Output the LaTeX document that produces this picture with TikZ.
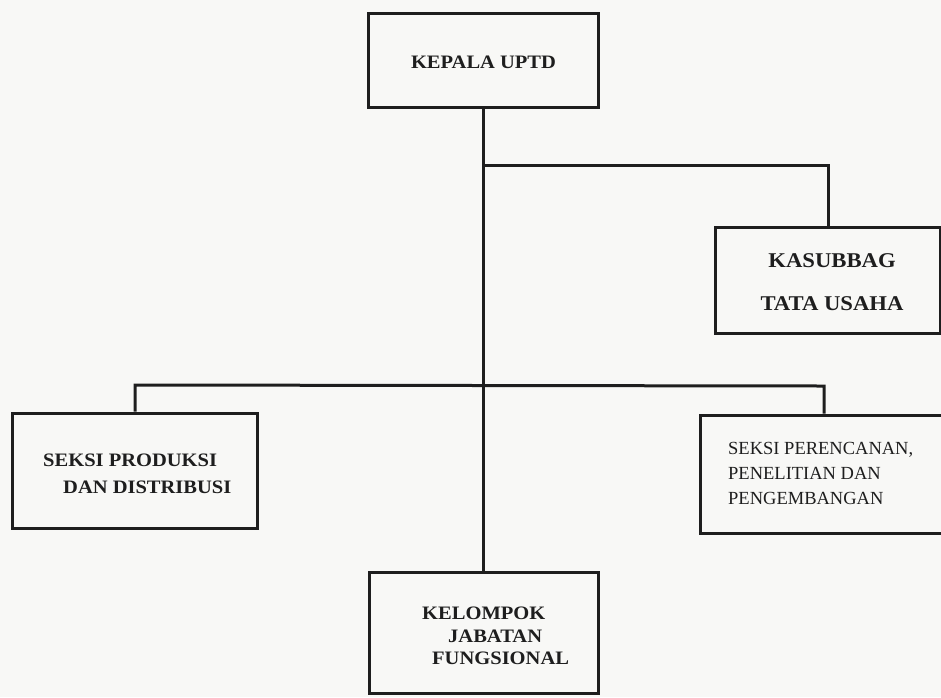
\documentclass[tikz,border=0pt]{standalone}
\usepackage{fontspec}
\setmainfont{Liberation Serif}
\newfontfamily\slab[FakeStretch=1.08]{Liberation Serif}
\definecolor{ink}{HTML}{1E1E1E}
\definecolor{paper}{HTML}{F8F8F6}
\begin{document}
\begin{tikzpicture}[x=1pt,y=-1pt,
  box/.style={draw=ink, line width=3pt, fill=paper, rectangle, inner sep=0pt},
  conn/.style={draw=ink, line width=3pt},
  lbl/.style={font=\slab\bfseries\fontsize{19}{23}\selectfont, text=ink, inner sep=0pt},
  biglbl/.style={font=\slab\bfseries\fontsize{21}{25}\selectfont, text=ink, inner sep=0pt},
  tlbl/.style={font=\fontsize{18.5}{25}\selectfont, text=ink, inner sep=0pt}]
\useasboundingbox[fill=paper] (0,0) rectangle (941,697);
% boxes
\node[box, minimum width=230pt, minimum height=94pt] (kepala) at (483,60) {};
\node[box, minimum width=225pt, minimum height=106pt] (kasubbag) at (827.5,280) {};
\node[box, minimum width=245pt, minimum height=115pt] (produksi) at (134.5,470.5) {};
\node[box, minimum width=248pt, minimum height=118pt] (perencanan) at (824,474) {};
\node[box, minimum width=229pt, minimum height=121pt] (kelompok) at (483.5,632.5) {};
% junctions
\coordinate (j1) at (483,165);
\coordinate (r1) at (828,165);
\coordinate (l2) at (135,385);
\coordinate (r2) at (824,386);
% connectors
\draw[conn] (kepala.south -| j1) -- (kelompok.north -| j1);
\draw[conn] (j1) -- (r1) -- (kasubbag.north -| r1);
\draw[conn] (produksi.north -| l2) -- (l2) -- (r2) -- (perencanan.north -| r2);
% texts
\node[lbl, anchor=base] (kepalaT) at (483.5,68.5) {KEPALA UPTD};
\node[biglbl, anchor=base] (kasT1) at (832,267.5) {KASUBBAG};
\node[biglbl, anchor=base] (kasT2) at (832,310) {TATA USAHA};
\node[lbl, anchor=base west] (prodT1) at (43,466.5) {SEKSI PRODUKSI};
\node[lbl, anchor=base west] (prodT2) at (63,493.5) {DAN DISTRIBUSI};
\node[tlbl, anchor=base west] (perT1) at (728,454) {SEKSI PERENCANAN,};
\node[tlbl, anchor=base west] (perT2) at (728,479) {PENELITIAN DAN};
\node[tlbl, anchor=base west] (perT3) at (728,504) {PENGEMBANGAN};
\node[lbl, anchor=base west] (kelT1) at (422,619.5) {KELOMPOK};
\node[lbl, anchor=base west] (kelT2) at (448,642.5) {JABATAN};
\node[lbl, anchor=base west] (kelT3) at (432,664.5) {FUNGSIONAL};
\end{tikzpicture}
\end{document}
